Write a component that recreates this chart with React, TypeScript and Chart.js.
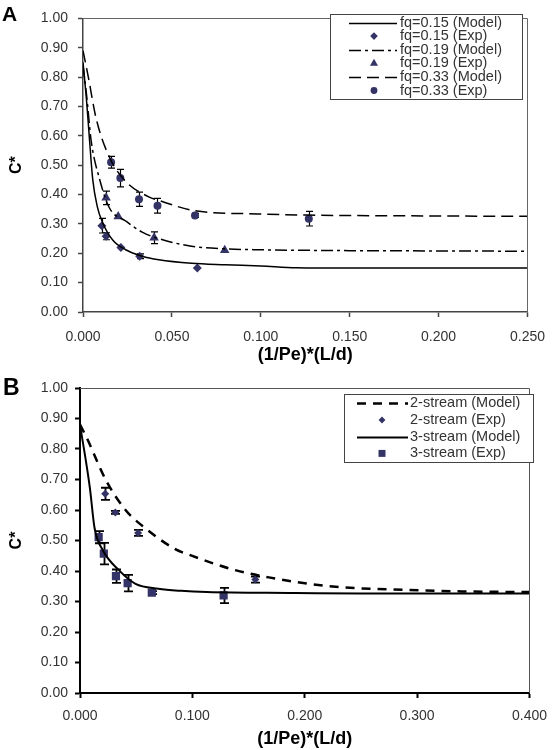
import { useEffect, useRef } from "react";
import { Chart, registerables } from "chart.js";

Chart.register(...registerables);

const FONT = "'Liberation Sans', Arial, Helvetica, sans-serif";
const MARKER = "#333366";

// ---------- Panel A data ----------
const aModel15X = [0, 0.002, 0.0035, 0.0055, 0.008, 0.011, 0.0167, 0.024, 0.0333, 0.0426, 0.061, 0.08, 0.1, 0.12, 0.15, 0.25];
const aModel15Y = [0.85, 0.72, 0.6, 0.45, 0.36, 0.305, 0.245, 0.212, 0.19, 0.178, 0.166, 0.161, 0.157, 0.151, 0.15, 0.15];
const aModel19X = [0, 0.002, 0.0046, 0.0093, 0.0148, 0.024, 0.0333, 0.0426, 0.061, 0.08, 0.1, 0.15, 0.2, 0.25];
const aModel19Y = [0.84, 0.74, 0.583, 0.453, 0.355, 0.31, 0.272, 0.25, 0.224, 0.215, 0.212, 0.209, 0.208, 0.207];
const aModel33X = [0, 0.003, 0.0074, 0.0148, 0.024, 0.037, 0.0426, 0.063, 0.098, 0.127, 0.2, 0.25];
const aModel33Y = [0.89, 0.8, 0.659, 0.528, 0.445, 0.392, 0.38, 0.345, 0.334, 0.33, 0.327, 0.326];

const aExp15X = [0.0106, 0.013, 0.0213, 0.0319, 0.0643];
const aExp15Y = [0.294, 0.258, 0.22, 0.19, 0.15];
const aExp15Err = [0.025, 0.012, 0, 0.008, 0];
const aExp19X = [0.013, 0.0198, 0.04, 0.0797];
const aExp19Y = [0.389, 0.325, 0.253, 0.21];
const aExp19Err = [0.023, 0, 0.02, 0];
const aExp33X = [0.0158, 0.021, 0.0315, 0.0419, 0.063, 0.127];
const aExp33Y = [0.51, 0.456, 0.384, 0.362, 0.329, 0.318];
const aExp33Err = [0.02, 0.03, 0.024, 0.025, 0.007, 0.025];

// ---------- Panel B data ----------
const bModel2X = [0, 0.0058, 0.0232, 0.0407, 0.0551, 0.0842, 0.0987, 0.139, 0.174, 0.1916, 0.232, 0.29, 0.34, 0.4];
const bModel2Y = [0.88, 0.838, 0.697, 0.599, 0.549, 0.473, 0.451, 0.402, 0.375, 0.364, 0.347, 0.338, 0.333, 0.331];
const bModel3X = [0, 0.0087, 0.013, 0.0203, 0.0348, 0.0494, 0.0697, 0.09, 0.113, 0.1916, 0.25, 0.4];
const bModel3Y = [0.88, 0.675, 0.54, 0.468, 0.402, 0.358, 0.342, 0.335, 0.331, 0.328, 0.326, 0.326];

const bExp2X = [0.0224, 0.0314, 0.0517, 0.156];
const bExp2Y = [0.653, 0.592, 0.525, 0.372];
const bExp2Err = [0.02, 0.005, 0.01, 0.01];
const bExp3X = [0.0166, 0.0212, 0.032, 0.0424, 0.0639, 0.1278];
const bExp3Y = [0.511, 0.457, 0.383, 0.36, 0.329, 0.32];
const bExp3Err = [0.02, 0.035, 0.022, 0.027, 0.005, 0.025];

const pts = (xs: number[], ys: number[]) => xs.map((x, i) => ({ x, y: ys[i] }));

function modelDs(label: string, xs: number[], ys: number[], dash: number[], width: number) {
  return {
    label,
    data: pts(xs, ys),
    showLine: true,
    borderColor: "#000",
    backgroundColor: "#000",
    borderWidth: width,
    borderDash: dash,
    pointRadius: 0,
    pointHoverRadius: 0,
    cubicInterpolationMode: "monotone",
    fill: false,
  };
}

function expDs(label: string, xs: number[], ys: number[], err: number[], style: string, radius: number) {
  return {
    label,
    data: pts(xs, ys),
    err,
    showLine: false,
    pointStyle: style,
    pointRadius: radius,
    pointHoverRadius: radius,
    backgroundColor: MARKER,
    borderColor: MARKER,
    borderWidth: 0,
  };
}

function drawMarker(ctx: CanvasRenderingContext2D, style: string, x: number, y: number, r: number) {
  ctx.beginPath();
  if (style === "circle") {
    ctx.arc(x, y, r, 0, Math.PI * 2);
  } else if (style === "rectRot") {
    ctx.moveTo(x - r, y);
    ctx.lineTo(x, y - r);
    ctx.lineTo(x + r, y);
    ctx.lineTo(x, y + r);
    ctx.closePath();
  } else if (style === "triangle") {
    let a = 0;
    ctx.moveTo(x + Math.sin(a) * r, y - Math.cos(a) * r);
    a += (2 * Math.PI) / 3;
    ctx.lineTo(x + Math.sin(a) * r, y - Math.cos(a) * r);
    a += (2 * Math.PI) / 3;
    ctx.lineTo(x + Math.sin(a) * r, y - Math.cos(a) * r);
    ctx.closePath();
  } else {
    const s = r * Math.SQRT1_2;
    ctx.rect(x - s, y - s, 2 * s, 2 * s);
  }
  ctx.fill();
}

const errorBarPlugin = {
  id: "errorBars",
  beforeDatasetsDraw(chart: any, _args: any, opts: any) {
    const { ctx } = chart;
    const xs = chart.scales.x;
    const ys = chart.scales.y;
    ctx.save();
    ctx.strokeStyle = opts.color;
    ctx.lineWidth = opts.width;
    chart.data.datasets.forEach((ds: any) => {
      if (!ds.err) return;
      ds.data.forEach((p: any, i: number) => {
        const e = ds.err[i];
        if (!e) return;
        const px = Math.round(xs.getPixelForValue(p.x)) + 0.5;
        const top = ys.getPixelForValue(p.y + e);
        const bot = ys.getPixelForValue(p.y - e);
        ctx.beginPath();
        ctx.moveTo(px, top);
        ctx.lineTo(px, bot);
        ctx.moveTo(px - opts.cap, top);
        ctx.lineTo(px + opts.cap, top);
        ctx.moveTo(px - opts.cap, bot);
        ctx.lineTo(px + opts.cap, bot);
        ctx.stroke();
      });
    });
    ctx.restore();
  },
};

const framePlugin = {
  id: "frame",
  afterDraw(chart: any, _args: any, opts: any) {
    const { ctx, chartArea: ca } = chart;
    ctx.save();
    // top and right border of the plot area
    ctx.strokeStyle = opts.borderColor;
    ctx.lineWidth = 1;
    ctx.setLineDash([]);
    ctx.beginPath();
    ctx.moveTo(ca.left, Math.round(ca.top) + 0.5);
    ctx.lineTo(Math.round(ca.right) + 0.5, Math.round(ca.top) + 0.5);
    ctx.lineTo(Math.round(ca.right) + 0.5, ca.bottom);
    ctx.stroke();

    // panel letter
    ctx.fillStyle = "#000";
    ctx.font = `bold ${opts.letterSize}px ${FONT}`;
    ctx.textAlign = "left";
    ctx.textBaseline = "alphabetic";
    ctx.fillText(opts.letter, opts.letterX, opts.letterY);

    // legend box
    const lg = opts.legend;
    const [x0, y0, x1, y1] = lg.box;
    ctx.fillStyle = "#fff";
    ctx.fillRect(x0, y0, x1 - x0, y1 - y0);
    ctx.strokeStyle = "#444";
    ctx.lineWidth = 1;
    ctx.strokeRect(x0 + 0.5, y0 + 0.5, x1 - x0, y1 - y0);

    chart.data.datasets.forEach((ds: any, i: number) => {
      const y = lg.rowY0 + i * lg.rowH;
      if (ds.showLine) {
        ctx.save();
        ctx.strokeStyle = ds.borderColor;
        ctx.lineWidth = ds.borderWidth;
        ctx.setLineDash(ds.borderDash || []);
        ctx.beginPath();
        ctx.moveTo(lg.lineX0, Math.round(y) + 0.5);
        ctx.lineTo(lg.lineX1, Math.round(y) + 0.5);
        ctx.stroke();
        ctx.restore();
      } else {
        ctx.fillStyle = ds.backgroundColor;
        drawMarker(ctx, ds.pointStyle, lg.markX, y, ds.pointRadius * 0.85);
      }
      ctx.fillStyle = "#333";
      ctx.font = `${lg.fontSize}px ${FONT}`;
      ctx.textAlign = "left";
      ctx.textBaseline = "middle";
      ctx.fillText(ds.label, lg.textX, y);
    });
    ctx.restore();
  },
};

function buildConfig(p: any) {
  return {
    type: "scatter",
    data: { datasets: p.datasets },
    plugins: [errorBarPlugin, framePlugin],
    options: {
      animation: false,
      responsive: false,
      maintainAspectRatio: false,
      devicePixelRatio: 1,
      events: [],
      layout: { padding: p.padding },
      plugins: {
        legend: { display: false },
        tooltip: { enabled: false },
        errorBars: { color: "#000", width: p.errWidth, cap: p.errCap },
        frame: {
          borderColor: p.frameColor,
          letter: p.letter,
          letterSize: p.letterSize,
          letterX: p.letterX,
          letterY: p.letterY,
          legend: p.legend,
        },
      },
      scales: {
        x: {
          type: "linear",
          position: "bottom",
          min: 0,
          max: p.xMax,
          afterFit: (s: any) => {
            s.height = p.xHeight;
          },
          grid: {
            display: true,
            drawOnChartArea: false,
            drawTicks: true,
            tickLength: 5,
            tickColor: p.axisColor,
            tickWidth: p.axisWidth,
          },
          border: { display: true, color: p.axisColor, width: p.axisWidth },
          ticks: {
            stepSize: p.xStep,
            autoSkip: false,
            maxRotation: 0,
            padding: p.xTickPad,
            color: "#333",
            font: { family: FONT, size: 14 },
            callback: (v: any) => Number(v).toFixed(3),
          },
          title: {
            display: true,
            text: "(1/Pe)*(L/d)",
            color: "#000",
            font: { family: FONT, size: 18, weight: "bold" },
            padding: { top: 0, bottom: p.xTitlePad },
          },
        },
        y: {
          type: "linear",
          position: "left",
          min: 0,
          max: 1,
          afterFit: (s: any) => {
            s.width = p.yWidth;
          },
          grid: {
            display: true,
            drawOnChartArea: false,
            drawTicks: true,
            tickLength: 5,
            tickColor: p.axisColor,
            tickWidth: p.axisWidth,
          },
          border: { display: true, color: p.axisColor, width: p.axisWidth },
          ticks: {
            stepSize: 0.1,
            autoSkip: false,
            maxTicksLimit: 20,
            padding: p.yTickPad,
            color: "#333",
            font: { family: FONT, size: 14 },
            callback: (v: any) => Number(v).toFixed(2),
          },
          title: {
            display: true,
            text: "C*",
            color: "#000",
            font: { family: FONT, size: 16, weight: "bold" },
            padding: { top: 7, bottom: 0 },
          },
        },
      },
    },
  };
}

function configA() {
  return buildConfig({
    datasets: [
      modelDs("fq=0.15 (Model)", aModel15X, aModel15Y, [], 1.5),
      expDs("fq=0.15 (Exp)", aExp15X, aExp15Y, aExp15Err, "rectRot", 4.5),
      modelDs("fq=0.19 (Model)", aModel19X, aModel19Y, [12, 4, 3, 4], 1.5),
      expDs("fq=0.19 (Exp)", aExp19X, aExp19Y, aExp19Err, "triangle", 5.5),
      modelDs("fq=0.33 (Model)", aModel33X, aModel33Y, [12, 6], 1.5),
      expDs("fq=0.33 (Exp)", aExp33X, aExp33Y, aExp33Err, "circle", 4),
    ],
    padding: { left: 0, right: 25, top: 6, bottom: 0 },
    xMax: 0.25,
    xStep: 0.05,
    xHeight: 60,
    yWidth: 83,
    xTickPad: 12,
    yTickPad: 10,
    xTitlePad: 6,
    axisColor: "#444",
    axisWidth: 1.5,
    frameColor: "#666",
    errWidth: 1.2,
    errCap: 3.5,
    letter: "A",
    letterSize: 21,
    letterX: 2,
    letterY: 21,
    legend: {
      box: [330, 14, 522, 99],
      rowY0: 22.5,
      rowH: 13.6,
      lineX0: 349,
      lineX1: 397,
      markX: 374,
      textX: 400,
      fontSize: 14.5,
    },
  });
}

function configB() {
  return buildConfig({
    datasets: [
      modelDs("2-stream (Model)", bModel2X, bModel2Y, [9, 7], 2.5),
      expDs("2-stream (Exp)", bExp2X, bExp2Y, bExp2Err, "rectRot", 4),
      modelDs("3-stream (Model)", bModel3X, bModel3Y, [], 2),
      expDs("3-stream (Exp)", bExp3X, bExp3Y, bExp3Err, "rect", 5.8),
    ],
    padding: { left: 0, right: 18, top: 16, bottom: 0 },
    xMax: 0.4,
    xStep: 0.1,
    xHeight: 57,
    yWidth: 80,
    xTickPad: 10,
    yTickPad: 7,
    xTitlePad: 0,
    axisColor: "#000",
    axisWidth: 2,
    frameColor: "#555",
    errWidth: 1.8,
    errCap: 4.5,
    letter: "B",
    letterSize: 23,
    letterX: 3,
    letterY: 23,
    legend: {
      box: [344, 22, 533, 90],
      rowY0: 31.3,
      rowH: 16.7,
      lineX0: 357,
      lineX1: 408,
      markX: 382,
      textX: 410,
      fontSize: 14.5,
    },
  });
}

function ChartCanvas({ make, top, height }: { make: () => any; top: number; height: number }) {
  const ref = useRef<HTMLCanvasElement>(null);
  useEffect(() => {
    const chart = new Chart(ref.current as HTMLCanvasElement, make());
    return () => chart.destroy();
  }, [make]);
  return (
    <canvas
      ref={ref}
      width={557}
      height={height}
      style={{ position: "absolute", left: 0, top, width: 557, height, display: "block" }}
    />
  );
}

export default function App() {
  return (
    <div style={{ position: "absolute", left: 0, top: 0, width: 557, height: 750, background: "#fff" }}>
      <ChartCanvas make={configA} top={0} height={372} />
      <ChartCanvas make={configB} top={372} height={378} />
    </div>
  );
}
